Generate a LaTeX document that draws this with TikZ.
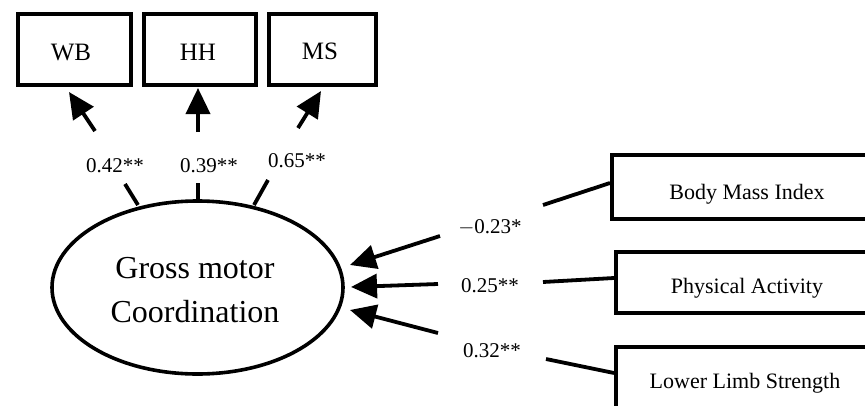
\documentclass[tikz,border=0pt]{standalone}
\usepackage{fontspec}
\setmainfont{Liberation Serif}
\usetikzlibrary{arrows.meta,shapes.geometric}
\begin{document}
\begin{tikzpicture}[x=1pt,y=-1pt,
  box/.style={draw,line width=4pt,inner sep=0pt,anchor=north west},
  boxtxt/.style={inner sep=0pt,anchor=base,font=\fontsize{25}{30}\selectfont},
  rtxt/.style={inner sep=0pt,anchor=base,font=\fontsize{22}{26}\selectfont},
  coef/.style={inner sep=0pt,anchor=base,font=\fontsize{21}{25}\selectfont},
  conn/.style={line width=3.8pt},
  arr/.style={line width=3.8pt,-{Triangle[length=26pt,width=24pt]}}]
\useasboundingbox (0,0) rectangle (865,405);
\clip (0,0) rectangle (865,405);
% top boxes
\node[box,minimum width=113pt,minimum height=71pt] (wb) at (16,12) {};
\node[box,minimum width=112pt,minimum height=71pt] (hh) at (142,12) {};
\node[box,minimum width=107pt,minimum height=71pt] (ms) at (267,12) {};
\node[boxtxt] (wbt) at (71,60) {WB};
\node[boxtxt] (hht) at (198,60) {HH};
\node[boxtxt] (mst) at (320,59) {MS};
% ellipse
\node[draw,ellipse,line width=3.6pt,inner sep=0pt,minimum width=291pt,minimum height=173pt] (gmc) at (197.5,287.5) {};
\node[inner sep=0pt,align=center,font=\fontsize{32}{44}\selectfont] (gmct) at (195,290) {Gross motor\\Coordination};
% right boxes
\node[box,minimum width=276pt,minimum height=64pt] (bmi) at (610,153) {};
\node[box,minimum width=274pt,minimum height=61pt] (pa) at (614,250) {};
\node[box,minimum width=274pt,minimum height=66pt] (lls) at (614,345) {};
\node[rtxt] (bmit) at (747,199) {Body Mass Index};
\node[rtxt] (pat) at (747,293) {Physical Activity};
\node[rtxt] (llst) at (745,388) {Lower Limb Strength};
% coefficient labels
\node[coef] (c1) at (115,172) {0.42**};
\node[coef] (c2) at (209,172) {0.39**};
\node[coef] (c3) at (297,167) {0.65**};
\node[coef] (c4) at (490,233) {$-$0.23*};
\node[coef] (c5) at (490,292) {0.25**};
\node[coef] (c6) at (492,357) {0.32**};
% coordinates
\coordinate (wbA) at (95,131);  \coordinate (wbT) at (69,92);
\coordinate (wbB) at (138,205); \coordinate (wbC) at (125,184);
\coordinate (hhA) at (198,132); \coordinate (hhT) at (198,88);
\coordinate (hhB) at (198,200); \coordinate (hhC) at (198,183);
\coordinate (msA) at (298,128); \coordinate (msT) at (321,91);
\coordinate (msB) at (254,205); \coordinate (msC) at (268,180);
\coordinate (r1A) at (440,236); \coordinate (r1T) at (350,265);
\coordinate (r2A) at (438,284); \coordinate (r2T) at (351,287);
\coordinate (r3A) at (438,333); \coordinate (r3T) at (350,310);
\coordinate (r1B) at (543,205); \coordinate (r1C) at (610,183);
\coordinate (r2B) at (543,282); \coordinate (r2C) at (614,278);
\coordinate (r3B) at (546,359); \coordinate (r3C) at (614,373);
% connectors
\draw[arr] (wbA) -- (wbT);
\draw[arr] (hhA) -- (hhT);
\draw[arr] (msA) -- (msT);
\draw[conn] (wbB) -- (wbC);
\draw[conn] (hhB) -- (hhC);
\draw[conn] (msB) -- (msC);
\draw[arr] (r1A) -- (r1T);
\draw[arr] (r2A) -- (r2T);
\draw[arr] (r3A) -- (r3T);
\draw[conn] (r1B) -- (r1C);
\draw[conn] (r2B) -- (r2C);
\draw[conn] (r3B) -- (r3C);
\end{tikzpicture}
\end{document}
